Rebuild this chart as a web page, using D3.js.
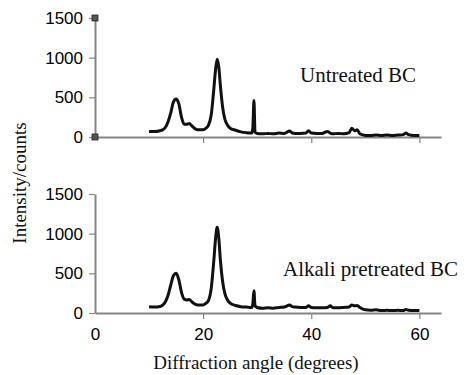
<!DOCTYPE html>
<html>
<head>
<meta charset="utf-8">
<script src="https://cdn.jsdelivr.net/npm/d3@7"></script>
<style>
  html, body { margin: 0; padding: 0; background: #fff; }
  svg { display: block; }
</style>
</head>
<body>
<svg id="chart" width="472" height="375"></svg>
<script>
// Diffraction angle (2θ, degrees) shared by both patterns
const angles = [10, 11, 12, 12.5, 13, 13.5, 14, 14.5, 15, 15.5, 16, 16.5, 17, 17.4, 18, 18.5, 19, 20, 20.5, 21,
  21.5, 22, 22.3, 22.6, 22.9, 23.2, 23.6, 24, 24.5, 25, 26, 27, 28, 29, 29.2, 29.4, 29.6, 30, 31, 32,
  33, 34, 35, 36, 36.5, 37, 38, 39, 39.5, 40, 41, 42, 43, 43.5, 44, 45, 46, 47, 47.5, 48,
  48.5, 49, 50, 51, 52, 53, 54, 55, 56, 57, 57.5, 58, 59, 60];

// Intensity counts, untreated bagasse
const untreated = [70, 68, 78, 90, 120, 190, 300, 440, 480, 420, 250, 160, 160, 170, 135, 105, 92, 92, 110, 150,
  280, 620, 850, 980, 880, 640, 380, 230, 150, 110, 85, 65, 55, 50, 120, 460, 60, 45, 40, 45,
  40, 50, 45, 75, 50, 45, 45, 50, 80, 50, 45, 45, 70, 50, 40, 45, 40, 55, 110, 80,
  90, 40, 20, 20, 25, 20, 25, 20, 25, 30, 50, 30, 20, 20];

// Intensity counts, alkali pretreated bagasse
const alkali = [80, 75, 82, 100, 140, 220, 350, 470, 500, 420, 260, 175, 165, 170, 135, 112, 102, 102, 120, 160,
  310, 680, 940, 1080, 940, 660, 400, 250, 165, 125, 95, 80, 75, 70, 120, 280, 90, 70, 60, 65,
  60, 70, 75, 100, 80, 75, 70, 70, 90, 70, 65, 65, 70, 90, 65, 65, 70, 75, 100, 90,
  95, 70, 40, 35, 40, 30, 35, 30, 35, 30, 45, 35, 30, 30];

const xTicks = [0, 20, 40, 60];
const yTicks = [0, 500, 1000, 1500];
const panelLabels = ["Untreated BC", "Alkali pretreated BC"];

const svg = d3.select("#chart");
const axisColor = "#858585";
const sansFont = "'Liberation Sans', Arial, sans-serif";
const serifFont = "'Liberation Serif', 'Times New Roman', serif";

const x = d3.scaleLinear().domain([0, 64]).range([95, 441]);

const panels = [
  { values: untreated, top: 18, bottom: 137, label: panelLabels[0], lx: 300, ly: 82, showX: false, markers: true },
  { values: alkali, top: 194, bottom: 313, label: panelLabels[1], lx: 283, ly: 276, showX: true, markers: false }
];

panels.forEach(p => {
  const y = d3.scaleLinear().domain([0, 1500]).range([p.bottom, p.top]);
  const g = svg.append("g");

  // x axis
  const xAxis = d3.axisBottom(x).tickValues(xTicks).tickSize(6).tickSizeOuter(0)
    .tickFormat(p.showX ? d3.format("d") : "");
  const gx = g.append("g").attr("transform", `translate(0,${p.bottom})`).call(xAxis);
  gx.select(".domain").attr("stroke", axisColor).attr("stroke-width", 2);
  gx.selectAll(".tick line").attr("stroke", axisColor).attr("stroke-width", 1.2);
  gx.selectAll(".tick").filter(d => d === 0).select("line").remove();
  gx.selectAll(".tick text").attr("font-family", sansFont).attr("font-size", 17)
    .attr("fill", "#000").attr("dy", "1.05em");

  // y axis
  const yAxis = d3.axisLeft(y).tickValues(yTicks).tickSize(6).tickSizeOuter(0).tickPadding(6)
    .tickFormat(d3.format("d"));
  const gy = g.append("g").attr("transform", `translate(${x(0)},0)`).call(yAxis);
  gy.select(".domain").attr("stroke", axisColor).attr("stroke-width", 2);
  gy.selectAll(".tick line").attr("stroke", axisColor).attr("stroke-width", 1.2);
  gy.selectAll(".tick text").attr("font-family", sansFont).attr("font-size", 17).attr("fill", "#000");

  if (p.markers) {
    // small square markers sitting on the axis ends
    g.selectAll("rect.mk").data([0, 1500]).join("rect").attr("class", "mk")
      .attr("x", x(0) - 3).attr("y", d => y(d) - 3).attr("width", 6).attr("height", 6)
      .attr("fill", "#555").attr("stroke", "#222").attr("stroke-width", 0.8);
  }

  // diffraction pattern
  const line = d3.line().x((d, i) => x(angles[i])).y(d => y(d)).curve(d3.curveMonotoneX);
  g.append("path").datum(p.values).attr("d", line)
    .attr("fill", "none").attr("stroke", "#111").attr("stroke-width", 3)
    .attr("stroke-linejoin", "round");

  g.append("text").attr("x", p.lx).attr("y", p.ly).text(p.label)
    .attr("font-family", serifFont).attr("font-size", 21).attr("fill", "#111");
});

// axis titles
svg.append("text").attr("transform", "translate(26,183) rotate(-90)")
  .attr("text-anchor", "middle").attr("font-family", serifFont).attr("font-size", 19)
  .attr("fill", "#111").text("Intensity/counts");

svg.append("text").attr("x", 256).attr("y", 369).attr("text-anchor", "middle")
  .attr("font-family", serifFont).attr("font-size", 19).attr("fill", "#111")
  .text("Diffraction angle (degrees)");
</script>
</body>
</html>
